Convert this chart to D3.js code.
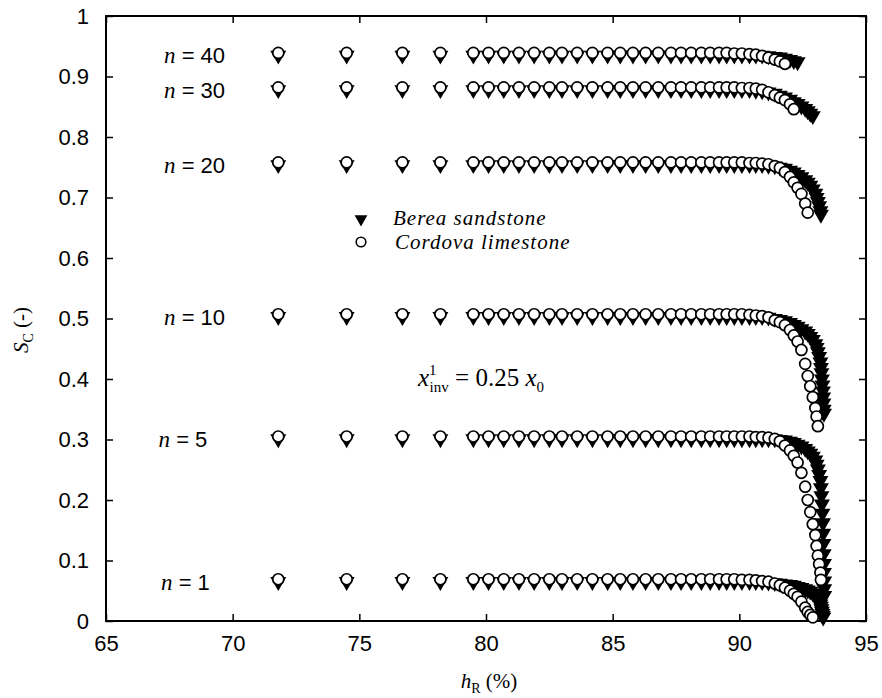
<!DOCTYPE html>
<meta charset="utf-8">
<style>
body { margin: 0; background: #fff; }
svg { display: block; }
.axis text { font: 22px "Liberation Sans", Arial, sans-serif; fill: #000; }
.axis line { stroke: #000; stroke-width: 1.5px; }
.lab { font-family: "Liberation Sans", Arial, sans-serif; font-size: 22px; fill: #000; }
.serif { font-family: "Liberation Serif", "Times New Roman", serif; fill: #000; }
</style>
<body>
<script src="https://d3js.org/d3.v7.min.js"></script>
<script>

// shared h_R grid (%), one value per output step
var hR = [71.8, 74.5, 76.7, 78.2, 79.5, 80.1, 80.7, 81.3, 81.9, 82.5,
          83.0, 83.6, 84.2, 84.8, 85.3, 85.8, 86.3, 86.8, 87.3, 87.7,
          88.1, 88.5, 88.85, 89.2, 89.5, 89.8, 90.1, 90.4, 90.65, 90.9,
          91.15, 91.4, 91.6, 91.8, 92.0, 92.15, 92.3, 92.45, 92.6, 92.7,
          92.8, 92.9, 93.0, 93.05, 93.1, 93.15, 93.2, 93.22, 93.24, 93.26,
          93.28, 93.3, 93.31, 93.32, 93.33, 93.34, 93.34, 93.35, 93.35, 93.35];

var nValues = [40, 30, 20, 10, 5, 1];

// S_C values, Berea sandstone (filled triangles)
var berea40 = [0.935,0.935,0.935,0.935,0.935,0.935,0.935,0.935,0.935,0.935,
               0.935,0.935,0.935,0.935,0.935,0.935,0.935,0.935,0.935,0.935,
               0.935,0.935,0.935,0.935,0.935,0.935,0.935,0.935,0.935,0.935,
               0.934,0.933,0.932,0.930,0.928,0.926,0.924];
var berea30 = [0.878,0.878,0.878,0.878,0.878,0.878,0.878,0.878,0.878,0.878,
               0.878,0.878,0.878,0.878,0.878,0.878,0.878,0.878,0.878,0.878,
               0.878,0.878,0.878,0.878,0.878,0.878,0.878,0.878,
               0.877,0.876,0.874,0.872,0.869,0.866,0.862,0.858,0.855,0.851,
               0.847,0.843,0.839,0.835];
var berea20 = [0.754,0.754,0.754,0.754,0.754,0.754,0.754,0.754,0.754,0.754,
               0.754,0.754,0.754,0.754,0.754,0.754,0.754,0.754,0.754,0.754,
               0.754,0.754,0.754,0.754,0.754,0.754,0.754,0.754,0.754,0.754,
               0.753,0.752,0.750,0.748,0.745,0.742,0.738,0.734,0.729,0.725,
               0.720,0.714,0.707,0.700,0.693,0.686,0.678,0.672];
var berea10 = [0.503,0.503,0.503,0.503,0.503,0.503,0.503,0.503,0.503,0.503,
               0.503,0.503,0.503,0.503,0.503,0.503,0.503,0.503,0.503,0.503,
               0.503,0.503,0.503,0.503,0.503,0.503,0.503,0.503,0.503,0.503,
               0.502,0.500,0.498,0.496,0.493,0.490,0.487,0.483,0.479,0.475,
               0.470,0.465,0.458,0.452,0.445,0.437,0.428,0.419,0.410,0.400,
               0.390,0.380,0.370,0.360,0.350,0.343];
var berea5 = [0.301,0.301,0.301,0.301,0.301,0.301,0.301,0.301,0.301,0.301,
              0.301,0.301,0.301,0.301,0.301,0.301,0.301,0.301,0.301,0.301,
              0.301,0.301,0.301,0.301,0.301,0.301,0.301,0.301,0.301,0.301,
              0.301,0.301,
              0.300,0.299,0.297,0.295,0.292,0.289,0.285,0.281,0.277,0.272,
              0.266,0.259,0.251,0.242,0.232,0.220,0.207,0.193,0.178,0.162,
              0.145,0.128,0.111,0.095,0.080,0.066,0.053,0.042];
var berea1 = [0.065,0.065,0.065,0.065,0.065,0.065,0.065,0.065,0.065,0.065,
              0.065,0.065,0.065,0.065,0.065,0.065,0.065,0.065,0.065,0.065,
              0.065,0.065,0.065,0.065,0.065,0.065,0.065,0.065,0.065,0.065,
              0.064,0.063,0.062,0.061,0.060,0.059,0.057,0.055,0.053,0.051,
              0.049,0.046,0.043,0.040,0.036,0.032,0.028,0.024,0.020,0.016,
              0.012,0.009,0.006];

// S_C values, Cordova limestone (open circles), sitting a hair above Berea
var cordova40 = [0.939,0.939,0.939,0.939,0.939,0.939,0.939,0.939,0.939,0.939,
                 0.939,0.939,0.939,0.939,0.939,0.939,0.939,0.939,0.939,0.939,
                 0.939,0.939,0.939,0.939,0.939,0.938,0.938,0.937,0.936,
                 0.934,0.931,0.928,0.925,0.921];
var cordova30 = [0.882,0.882,0.882,0.882,0.882,0.882,0.882,0.882,0.882,0.882,
                 0.882,0.882,0.882,0.882,0.882,0.882,0.882,0.882,0.882,0.882,
                 0.882,0.882,0.882,0.882,0.882,0.882,0.881,0.881,0.880,0.878,
                 0.874,0.869,0.865,0.861,0.854,0.846];
var cordova20 = [0.758,0.758,0.758,0.758,0.758,0.758,0.758,0.758,0.758,0.758,
                 0.758,0.758,0.758,0.758,0.758,0.758,0.758,0.758,0.758,0.758,
                 0.758,0.758,0.758,0.758,0.758,0.758,0.758,0.757,0.757,0.756,
                 0.755,
                 0.752,0.749,0.742,0.734,0.725,0.716,0.706,0.690,0.675];
var cordova10 = [0.507,0.507,0.507,0.507,0.507,0.507,0.507,0.507,0.507,0.507,
                 0.507,0.507,0.507,0.507,0.507,0.507,0.507,0.507,0.507,0.507,
                 0.507,0.507,0.507,0.507,0.507,0.507,0.507,0.506,0.505,0.504,
                 0.502,
                 0.497,0.494,0.489,0.481,0.472,0.462,0.448,0.425,0.405,0.388,
                 0.370,0.352,0.338,0.322];
var cordova5 = [0.305,0.305,0.305,0.305,0.305,0.305,0.305,0.305,0.305,0.305,
                0.305,0.305,0.305,0.305,0.305,0.305,0.305,0.305,0.305,0.305,
                0.305,0.305,0.305,0.305,0.305,0.305,0.305,0.305,0.304,0.304,
                0.303,0.301,
                0.297,0.290,0.282,0.273,0.262,0.245,0.222,0.200,0.180,0.160,
                0.142,0.124,0.108,0.094,0.080,0.068];
var cordova1 = [0.069,0.069,0.069,0.069,0.069,0.069,0.069,0.069,0.069,0.069,
                0.069,0.069,0.069,0.069,0.069,0.069,0.069,0.069,0.069,0.069,
                0.069,0.069,0.069,0.069,0.069,0.069,0.068,0.068,0.067,0.066,
                0.065,
                0.062,0.059,0.055,0.050,0.045,0.040,0.032,0.022,0.015,0.010,
                0.006];

var xTicks = [65, 70, 75, 80, 85, 90, 95];
var yTicks = [0, 0.1, 0.2, 0.3, 0.4, 0.5, 0.6, 0.7, 0.8, 0.9, 1];
var yTickLabels = ['0', '0.1', '0.2', '0.3', '0.4', '0.5', '0.6', '0.7', '0.8', '0.9', '1'];

var bereaByN = {40: berea40, 30: berea30, 20: berea20, 10: berea10, 5: berea5, 1: berea1};
var cordovaByN = {40: cordova40, 30: cordova30, 20: cordova20, 10: cordova10, 5: cordova5, 1: cordova1};

//==========layout====================
var W = 882, H = 698;
var margin = {top: 16, right: 16, bottom: 77, left: 106};
var w = W - margin.left - margin.right,
    h = H - margin.top - margin.bottom;

var x = d3.scaleLinear().domain([65, 95]).range([0, w]);
var y = d3.scaleLinear().domain([0, 1]).range([h, 0]);

var svg = d3.select('body').append('svg').attr('width', W).attr('height', H);
var g = svg.append('g').attr('transform', 'translate(' + margin.left + ',' + margin.top + ')');

// axes, ticks pointing inwards on all four sides
g.append('g').attr('class', 'axis').attr('transform', 'translate(0,' + h + ')')
    .call(d3.axisBottom(x).tickValues(xTicks).tickSize(-7).tickPadding(14).tickFormat(d3.format('d')));
g.append('g').attr('class', 'axis')
    .call(d3.axisTop(x).tickValues(xTicks).tickSize(-7).tickFormat(''));
g.append('g').attr('class', 'axis')
    .call(d3.axisLeft(y).tickValues(yTicks).tickSize(-7).tickPadding(17)
        .tickFormat(function(d, i) { return yTickLabels[i]; }));
g.append('g').attr('class', 'axis').attr('transform', 'translate(' + w + ',0)')
    .call(d3.axisRight(y).tickValues(yTicks).tickSize(-7).tickFormat(''));
g.selectAll('.axis .domain').remove();

g.append('rect').attr('width', w).attr('height', h)
    .attr('fill', 'none').attr('stroke', '#000').attr('stroke-width', 2);

//==========markers====================
var side = 16, th = side * Math.sqrt(3) / 2;
var triPath = 'M' + (-side / 2) + ',' + (-th / 3) + 'L' + (side / 2) + ',' + (-th / 3) + 'L0,' + (2 * th / 3) + 'Z';

function points(arr) {
    return arr.map(function(v, i) { return {x: hR[i], y: v}; });
}

var tri = g.append('g');
nValues.forEach(function(n) {
    tri.selectAll(null).data(points(bereaByN[n])).enter().append('path')
        .attr('d', triPath)
        .attr('transform', function(d) { return 'translate(' + x(d.x) + ',' + y(d.y) + ')'; })
        .attr('fill', '#000');
});
var circ = g.append('g');
nValues.forEach(function(n) {
    circ.selectAll(null).data(points(cordovaByN[n])).enter().append('circle')
        .attr('cx', function(d) { return x(d.x); })
        .attr('cy', function(d) { return y(d.y); })
        .attr('r', 5.5)
        .attr('fill', '#fff').attr('stroke', '#000').attr('stroke-width', 1.7);
});

//==========n labels====================
var labelEnd = {40: 69.7, 30: 69.7, 20: 69.7, 10: 69.7, 5: 69.0, 1: 69.1};
nValues.forEach(function(n) {
    var t = g.append('text').attr('class', 'lab')
        .attr('x', x(labelEnd[n])).attr('y', y(bereaByN[n][0]) + 8)
        .attr('text-anchor', 'end');
    t.append('tspan').attr('class', 'serif').style('font-style', 'italic').style('font-size', '23px').text('n');
    t.append('tspan').text(' = ' + n);
});

//==========legend====================
var leg = svg.append('g').attr('transform', 'translate(361,219)');
leg.append('path').attr('d', triPath).attr('transform', 'scale(0.8)').attr('fill', '#000');
leg.append('circle').attr('cx', 0).attr('cy', 23).attr('r', 4.8)
    .attr('fill', '#fff').attr('stroke', '#000').attr('stroke-width', 1.6);
leg.append('text').attr('class', 'serif').attr('x', 32).attr('y', 6)
    .style('font-style', 'italic').style('font-size', '21px').style('letter-spacing', '1px')
    .text('Berea sandstone');
leg.append('text').attr('class', 'serif').attr('x', 34).attr('y', 30)
    .style('font-style', 'italic').style('font-size', '21px').style('letter-spacing', '1px')
    .text('Cordova limestone');

//==========annotation====================
var ann = svg.append('text').attr('class', 'serif').attr('x', 418).attr('y', 386)
    .style('font-size', '25px');
ann.append('tspan').style('font-style', 'italic').text('x');
ann.append('tspan').attr('dy', -11).style('font-size', '15px').text('1');
ann.append('tspan').attr('dx', -7).attr('dy', 17).style('font-size', '15px').text('inv');
ann.append('tspan').attr('dy', -6).text(' = 0.25 ');
ann.append('tspan').style('font-style', 'italic').text('x');
ann.append('tspan').attr('dy', 6).style('font-size', '15px').text('0');

//==========axis titles====================
var yl = svg.append('text').attr('class', 'serif')
    .attr('transform', 'translate(28,330) rotate(-90)')
    .attr('text-anchor', 'middle').style('font-size', '21px');
yl.append('tspan').style('font-style', 'italic').text('S');
yl.append('tspan').attr('dy', 5).style('font-size', '14px').text('C');
yl.append('tspan').attr('dy', -5).text(' (-)');

var xl = svg.append('text').attr('class', 'serif')
    .attr('x', 489).attr('y', 688)
    .attr('text-anchor', 'middle').style('font-size', '21px');
xl.append('tspan').style('font-style', 'italic').text('h');
xl.append('tspan').attr('dy', 5).style('font-size', '14px').text('R');
xl.append('tspan').attr('dy', -5).text(' (%)');

</script>
</body>
